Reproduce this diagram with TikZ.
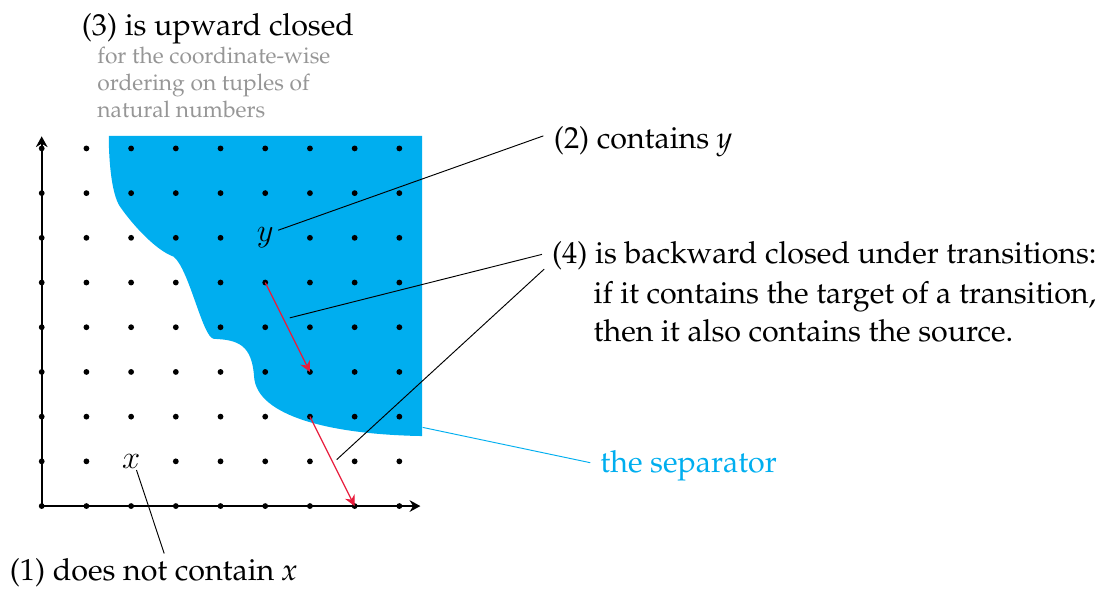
\documentclass[tikz,border=0pt]{standalone}
\usepackage[T1]{fontenc}
\usepackage{palatino}
\usetikzlibrary{arrows.meta}
\definecolor{sepblue}{RGB}{0,174,239}
\definecolor{arrred}{RGB}{232,28,60}
\definecolor{notegray}{RGB}{150,150,150}
\begin{document}
\begin{tikzpicture}[
  dot/.style={circle,fill=black,inner sep=0pt,minimum size=0.13cm},
  axis/.style={line width=1.1pt,-{Stealth[length=0.24cm,width=0.26cm]}},
  leader/.style={line width=0.6pt},
  trans/.style={arrred,line width=0.8pt,-{Stealth[length=0.24cm,width=0.24cm]}},
  lbl/.style={font=\fontsize{19.35}{24}\selectfont,inner sep=0pt,anchor=base west},
  note/.style={font=\fontsize{14.5}{17.5}\selectfont,text=notegray,inner sep=0pt,anchor=base west},
  var/.style={font=\fontsize{20}{24}\selectfont,inner sep=0pt},
]
\useasboundingbox (-0.933,-1.834) rectangle (23.74,11.32);

% the separator region
\fill[sepblue] (1.5,8.28) -- (8.51,8.28) -- (8.51,1.566)
  .. controls (6.5,1.6) and (4.8,2.0) .. (4.75,2.9)
  .. controls (4.7,3.6) and (4.4,3.72) .. (3.85,3.74)
  .. controls (3.6,3.76) and (3.3,5.3) .. (2.95,5.58)
  .. controls (2.6,5.7) and (2.1,6.2) .. (1.75,6.7)
  .. controls (1.55,7.0) and (1.5,7.8) .. (1.5,8.28) -- cycle;

% axes
\coordinate (O) at (0,0);
\coordinate (xend) at (8.47,0);
\coordinate (yend) at (0,8.27);
\draw[axis] (O) -- (xend);
\draw[axis] (O) -- (yend);

% grid of points
\foreach \i in {0,...,8}{
  \foreach \j in {0,...,8}{
    \pgfmathtruncatemacro\hideit{((\i==2)&&(\j==1))||((\i==5)&&(\j==6))}
    \ifnum\hideit=0 \node[dot] (p-\i-\j) at (\i,\j) {};\fi
  }
}
\node[var] (xl) at (2,1) {$x$};
\node[var] (yl) at (5,6) {$y$};

% transitions
\draw[trans] (p-5-5.center) -- (p-6-3.center);
\draw[trans] (p-6-2.center) -- (p-7-0.center);

% labels
\node[lbl] (l3) at (0.89,10.52) {(3) is upward closed};
\node[note] (n1) at (1.24,9.91) {for the coordinate-wise};
\node[note] (n2) at (1.24,9.30) {ordering on tuples of};
\node[note] (n3) at (1.24,8.70) {natural numbers};

\node[lbl] (l2) at (11.45,7.99) {(2) contains \textit{y}};
\node[lbl] (l4a) at (11.41,5.43) {(4) is backward closed under transitions:};
\node[lbl] (l4b) at (12.34,4.52) {if it contains the target of a transition,};
\node[lbl] (l4c) at (12.34,3.68) {then it also contains the source.};
\node[lbl,text=sepblue] (ls) at (12.49,0.745) {the separator};
\node[lbl] (l1) at (-0.72,-1.66) {(1) does not contain \textit{x}};

% leader lines
\coordinate (y-from) at (5.29,6.17);
\coordinate (y-to) at (11.22,8.28);
\coordinate (t-from1) at (5.55,4.21);
\coordinate (t-to1) at (11.19,5.63);
\coordinate (t-from2) at (6.6,1.04);
\coordinate (t-to2) at (11.24,5.30);
\coordinate (x-from) at (2.12,0.805);
\coordinate (x-to) at (2.74,-1.06);
\coordinate (s-from) at (8.52,1.76);
\coordinate (s-to) at (12.27,0.97);
\draw[leader] (y-from) -- (y-to);
\draw[leader] (t-from1) -- (t-to1);
\draw[leader] (t-from2) -- (t-to2);
\draw[leader] (x-from) -- (x-to);
\draw[leader,sepblue] (s-from) -- (s-to);
\end{tikzpicture}
\end{document}
